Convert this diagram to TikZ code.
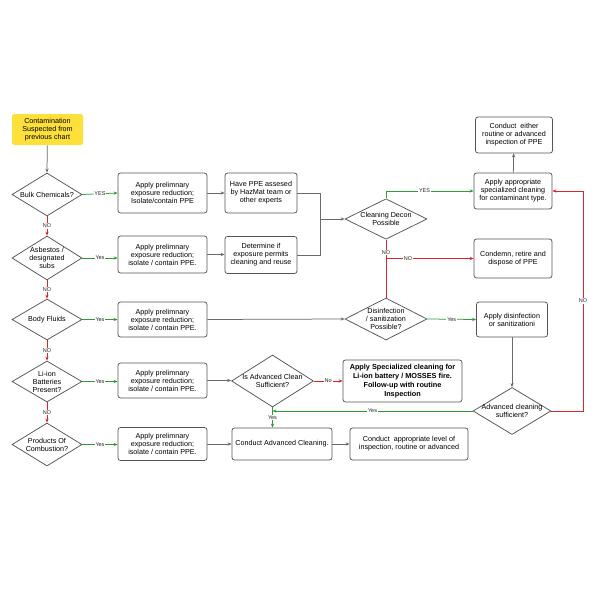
\documentclass[tikz,border=0pt]{standalone}
\usepackage{fontspec}
\setmainfont{Liberation Sans}
\usetikzlibrary{arrows.meta, shapes.geometric}

\definecolor{startyellow}{HTML}{FDE03A}
\definecolor{yesgreen}{HTML}{2F9A3A}
\definecolor{nored}{HTML}{D9262C}
\definecolor{linegray}{HTML}{6A6A6A}
\definecolor{boxgray}{HTML}{555555}

\begin{document}
\begin{tikzpicture}[x=1pt, y=-1pt,
        box/.style={draw=boxgray, line width=0.75pt, rounded corners=2.5pt, align=center, inner sep=1pt, font=\fontsize{7.2}{8}\selectfont},
        decision/.style={diamond, draw=boxgray, line width=0.75pt, aspect=1.6, inner sep=-1.5pt, align=center, font=\fontsize{7.2}{8}\selectfont},
        arrow/.style={-{Stealth[length=4pt, width=3.2pt]}, linegray, line width=0.75pt},
        yesarrow/.style={arrow, yesgreen},
        noarrow/.style={arrow, nored},
        tag/.style={font=\fontsize{5.5}{5.5}\selectfont, fill=white, inner sep=0.8pt, text=black!85}
    ]
        \fill[white] (0,0) rectangle (600,600);
        \useasboundingbox (0,0) rectangle (600,600);

        % Start
        \node[box, draw=none, fill=startyellow, minimum width=71pt, minimum height=31pt] (start) at (47.5,129.5) {Contamination\\Suspected from\\previous chart};

        % Decisions, left column
        \node[decision, minimum width=70pt, minimum height=43pt] (bulk) at (47,194.5) {Bulk Chemicals?};
        \node[decision, minimum width=70pt, minimum height=44pt] (asb) at (47,258) {Asbestos /\\designated\\subs};
        \node[decision, minimum width=70pt, minimum height=41pt] (body) at (47,319.5) {Body Fluids};
        \node[decision, minimum width=70pt, minimum height=41pt] (liion) at (47,381.5) {Li-ion\\Batteries\\Present?};
        \node[decision, minimum width=70pt, minimum height=43pt] (comb) at (47,444.5) {Products Of\\Combustion?};

        % Preliminary reduction boxes
        \node[box, minimum width=89pt, minimum height=40pt] (pre1) at (162.5,193) {Apply prelimnary\\exposure reduction;\\Isolate/contain PPE};
        \node[box, minimum width=89pt, minimum height=37pt] (pre2) at (162.5,254.5) {Apply prelimnary\\exposure reduction;\\isolate / contain PPE.};
        \node[box, minimum width=89pt, minimum height=35pt] (pre3) at (162.5,319.5) {Apply prelimnary\\exposure reduction;\\isolate / contain PPE.};
        \node[box, minimum width=89pt, minimum height=35pt] (pre4) at (162.5,380.5) {Apply prelimnary\\exposure reduction;\\isolate / contain PPE.};
        \node[box, minimum width=89pt, minimum height=33pt] (pre5) at (162.5,444) {Apply prelimnary\\exposure reduction;\\isolate / contain PPE.};

        % Assessment
        \node[box, minimum width=72pt, minimum height=40pt] (hazmat) at (261,193) {Have PPE assesed\\by HazMat team or\\other experts};
        \node[box, minimum width=72pt, minimum height=37pt] (permit) at (261,255) {Determine if\\exposure permits\\cleaning and reuse};
        \coordinate (merge) at (320,219);

        % Cleaning branch
        \node[decision, minimum width=82pt, minimum height=38pt] (decon) at (386,219) {Cleaning Decon\\Possible};
        \node[box, minimum width=78pt, minimum height=36pt] (special) at (513,191) {Apply appropriate\\specialized cleaning\\for contaminant type.};
        \node[box, minimum width=77pt, minimum height=36pt] (inspect) at (514,135) {Conduct\ \ either\\routine or advanced\\inspection of PPE};
        \node[box, minimum width=78pt, minimum height=39pt] (condemn) at (513,258.5) {Condemn, retire and\\dispose of PPE};
        \coordinate (nosplit) at (386,258.5);

        % Disinfection branch
        \node[decision, minimum width=82pt, minimum height=42pt] (disinf) at (386,319) {Disinfection\\/ sanitization\\Possible?};
        \node[box, minimum width=71pt, minimum height=35pt] (disbox) at (512,319.5) {Apply disinfection\\or sanitizationi};
        \node[decision, minimum width=78pt, minimum height=47pt] (advok) at (512,411) {Advanced cleaning\\sufficient?};
        \coordinate (noturn) at (583,191);

        % Li-ion / combustion branch
        \node[decision, minimum width=82pt, minimum height=52pt] (isadv) at (272.5,381) {Is Advanced Clean\\Sufficient?};
        \node[box, minimum width=119pt, minimum height=42pt, font=\fontsize{7.3}{9}\selectfont\bfseries] (lispec) at (402.5,381) {Apply Specialized cleaning for\\Li-ion battery / MOSSES fire.\\Follow-up with routine\\Inspection};
        \node[box, minimum width=100pt, minimum height=32pt] (advclean) at (282,444) {Conduct Advanced Cleaning.};
        \node[box, minimum width=118pt, minimum height=32pt] (approp) at (409,444) {Conduct\ \ appropriate level of\\inspection, routine or advanced};
        \coordinate (yesjoin) at (isadv.south |- advok.west);

        % Down the left column
        \draw[arrow] (start) -- (bulk.north);
        \draw[noarrow] (bulk.south) -- node[tag] {NO} (asb.north);
        \draw[noarrow] (asb.south) -- node[tag] {NO} (body.north);
        \draw[noarrow] (body.south) -- node[tag] {NO} (liion.north);
        \draw[noarrow] (liion.south) -- node[tag] {NO} (comb.north);

        % Yes to preliminary boxes
        \draw[yesarrow] (bulk.east) -- node[tag] {YES} (pre1.west);
        \draw[yesarrow] (asb.east) -- node[tag] {Yes} (asb.east -| pre2.west);
        \draw[yesarrow] (body.east) -- node[tag] {Yes} (pre3.west);
        \draw[yesarrow] (liion.east) -- node[tag] {Yes} (liion.east -| pre4.west);
        \draw[yesarrow] (comb.east) -- node[tag] {Yes} (comb.east -| pre5.west);

        % Onward from preliminary boxes
        \draw[arrow] (pre1) -- (hazmat);
        \draw[arrow] (pre2.east) -- (pre2.east -| permit.west);
        \draw[linegray, line width=0.75pt] (hazmat.east) -| (merge);
        \draw[linegray, line width=0.75pt] (permit.east) -| (merge);
        \draw[arrow] (merge) -- (decon.west);
        \draw[arrow] (pre3.east) -- (disinf.west);
        \draw[arrow] (pre4.east) -- (pre4.east -| isadv.west);
        \draw[arrow] (pre5.east) -- (pre5.east -| advclean.west);

        % Cleaning decon
        \draw[yesarrow] (decon.north) |- node[tag, pos=0.72] {YES} (special.west);
        \draw[arrow] (special) -- (inspect);
        \draw[nored, line width=0.75pt] (decon.south) -- node[tag, pos=0.22] {NO} (disinf.north);
        \draw[noarrow] (nosplit) -- node[tag, pos=0.25] {NO} (condemn.west);

        % Disinfection
        \draw[yesarrow] (disinf.east) -- node[tag] {Yes} (disbox.west);
        \draw[arrow] (disbox) -- (advok.north);
        \draw[noarrow] (advok.east) -| node[tag, pos=0.75] {NO} (noturn) -- (special.east);
        \draw[yesarrow] (advok.west) -- node[tag] {Yes} (yesjoin);

        % Advanced clean
        \draw[noarrow] (isadv.east) -- node[tag] {No} (lispec.west);
        \draw[yesarrow] (isadv.south) -- node[tag] {Yes} (isadv.south |- advclean.north);
        \draw[arrow] (advclean) -- (approp);

    \end{tikzpicture}
\end{document}
